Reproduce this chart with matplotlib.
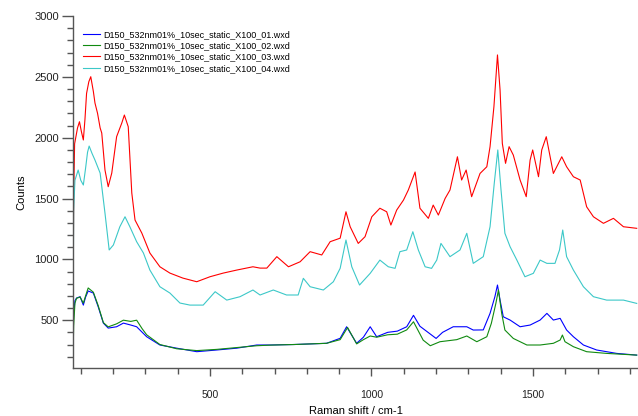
import matplotlib
matplotlib.use("Agg")
import matplotlib.pyplot as plt
from matplotlib.ticker import MultipleLocator

plt.rcParams['font.family'] = ['Liberation Sans', 'DejaVu Sans']

labels = ["D150_532nm01%_10sec_static_X100_01.wxd",
          "D150_532nm01%_10sec_static_X100_02.wxd",
          "D150_532nm01%_10sec_static_X100_03.wxd",
          "D150_532nm01%_10sec_static_X100_04.wxd"]

blue_x = [76, 78, 82, 87, 98, 108, 115, 123, 139, 154, 170, 185, 211, 232, 255, 273, 304, 345, 397, 459,
          521, 583, 645, 686, 760, 861, 903, 923, 954, 975, 996, 1016, 1050, 1080, 1109, 1130, 1150, 1175,
          1200, 1220, 1253, 1295, 1315, 1346, 1367, 1382, 1390, 1398, 1408, 1429, 1460, 1491, 1522, 1543,
          1563, 1584, 1604, 1625, 1656, 1697, 1759, 1821]
blue_y = [380, 550, 660, 682, 693, 624, 690, 740, 723, 610, 476, 435, 446, 476, 460, 446, 364, 296, 270, 241,
          255, 270, 296, 296, 300, 310, 351, 446, 310, 360, 446, 364, 400, 410, 446, 540, 450, 400,
          350, 400, 446, 446, 419, 420, 556, 693, 789, 665, 528, 501, 446, 460, 501, 556,
          501, 515, 419, 364, 296, 255, 227, 213]

green_x = [76, 78, 82, 87, 98, 108, 115, 123, 139, 154, 170, 185, 211, 232, 255, 273, 290, 304, 345, 397,
           459, 521, 583, 645, 686, 760, 861, 903, 926, 954, 975, 996, 1016, 1050, 1080, 1109, 1130, 1160,
           1182, 1212, 1264, 1295, 1326, 1357, 1371, 1385, 1393, 1403, 1413, 1439, 1481, 1522, 1563, 1584,
           1591, 1599, 1625, 1666, 1728, 1821]
green_y = [170, 450, 640, 680, 690, 640, 700, 765, 730, 620, 480, 445, 470, 500, 490, 500, 430, 380, 300, 265,
           250, 260, 275, 290, 295, 300, 310, 340, 440, 305, 340, 370, 360, 380, 385, 420, 487, 336,
           290, 323, 340, 370, 323, 364, 474, 638, 748, 556, 419, 350, 296, 296, 310, 337,
           378, 323, 282, 241, 227, 213]

red_x = [76, 78, 81, 90, 96, 102, 108, 113, 118, 125, 131, 139, 144, 152, 160, 165, 175, 185, 196, 211,
         227, 235, 247, 258, 268, 289, 314, 345, 376, 416, 459, 500, 541, 583, 633, 655, 676, 707, 743, 779,
         810, 846, 872, 903, 921, 934, 959, 980, 1001, 1026, 1047, 1060, 1078, 1099, 1114, 1135, 1150, 1176,
         1191, 1207, 1228, 1243, 1266, 1279, 1293, 1310, 1336, 1357, 1367, 1379, 1390, 1398, 1405, 1415,
         1426, 1439, 1460, 1479, 1491, 1499, 1517, 1527, 1541, 1563, 1589, 1604, 1625, 1646, 1666, 1687,
         1718, 1749, 1780, 1821]
red_y = [450, 1500, 1950, 2080, 2131, 2050, 1981, 2150, 2364, 2460, 2501, 2380, 2285, 2200, 2080, 2038, 1734, 1597, 1709, 2008,
         2120, 2186, 2090, 1545, 1323, 1216, 1052, 939, 887, 846, 816, 857, 887, 912, 939, 928, 928, 1022, 939, 980,
         1063, 1036, 1145, 1174, 1391, 1268, 1131, 1186, 1350, 1420, 1391, 1282, 1405, 1487, 1570, 1718, 1420, 1337,
         1446, 1364, 1501, 1570, 1843, 1652, 1734, 1515, 1706, 1761, 1926, 2255, 2680, 2392, 1953, 1789,
         1926, 1857, 1652, 1515, 1816, 1899, 1679, 1899, 2008, 1706, 1843, 1761, 1679, 1652, 1432, 1350,
         1296, 1337, 1268, 1255]

cyan_x = [76, 78, 82, 92, 100, 108, 115, 121, 126, 135, 144, 160, 175, 188, 201, 221, 237, 252, 273, 294,
          314, 345, 376, 407, 438, 479, 516, 552, 593, 633, 655, 696, 737, 773, 789, 810, 851, 882, 903, 921,
          939, 963, 996, 1026, 1052, 1073, 1088, 1109, 1128, 1145, 1166, 1186, 1202, 1215, 1243, 1274, 1295,
          1315, 1346, 1367, 1380, 1391, 1401, 1413, 1429, 1450, 1475, 1501, 1522, 1543, 1568, 1582, 1592,
          1604, 1625, 1656, 1687, 1728, 1780, 1821]
cyan_y = [400, 1400, 1650, 1734, 1650, 1611, 1750, 1880, 1931, 1870, 1816, 1709, 1380, 1077, 1118, 1268, 1350, 1268, 1145, 1052,
          912, 775, 723, 641, 624, 624, 734, 665, 693, 748, 707, 748, 707, 707, 844, 775, 748, 816, 926, 1159,
          939, 789, 885, 994, 939, 926, 1063, 1077, 1227, 1077, 939, 926, 994, 1131, 1022, 1077, 1214,
          967, 1022, 1268, 1624, 1899, 1570, 1214, 1104, 994, 857, 885, 994, 967, 967, 1077, 1241,
          1022, 912, 775, 693, 665, 665, 638]

series = [(blue_x, blue_y, '#0000ff'), (green_x, green_y, '#108a10'),
          (red_x, red_y, '#ff0000'), (cyan_x, cyan_y, '#3cc8c8')]

fig = plt.figure(figsize=(6.38, 4.16), dpi=100)
ax = fig.add_axes([73/638, 48/416, 565/638, 352/416])

for (xs, ys, c), lab in zip(series, labels):
    ax.plot(xs, ys, color=c, lw=0.8, label=lab)

ax.set_xlim(76, 1825)
ax.set_ylim(107, 3000)
ax.xaxis.set_major_locator(MultipleLocator(500))
ax.xaxis.set_minor_locator(MultipleLocator(100))
ax.yaxis.set_major_locator(MultipleLocator(500))
ax.yaxis.set_minor_locator(MultipleLocator(100))
for s in ['top', 'right']:
    ax.spines[s].set_visible(False)
for s in ['left', 'bottom']:
    ax.spines[s].set_color('#555555')
    ax.spines[s].set_linewidth(1.0)
ax.tick_params(axis='y', which='major', length=8, width=1.0, color='#555555', labelsize=8, pad=2, labelcolor='#222222')
ax.tick_params(axis='y', which='minor', length=4, width=1.0, color='#555555')
ax.tick_params(axis='x', which='major', length=6, width=1.0, color='#555555', labelsize=7.5, pad=10, labelcolor='#222222')
ax.tick_params(axis='x', which='minor', length=4, width=1.0, color='#555555')

ax.set_xlabel("Raman shift / cm-1", fontsize=8, labelpad=4)
ax.set_ylabel("Counts", fontsize=8, labelpad=6)

ax.legend(loc='upper left', bbox_to_anchor=(0.015, 0.965), frameon=False, fontsize=6.5,
          handlelength=1.8, handletextpad=0.4, labelspacing=0.25, borderaxespad=0, borderpad=0.2)

fig.savefig("out.png", dpi=100)
